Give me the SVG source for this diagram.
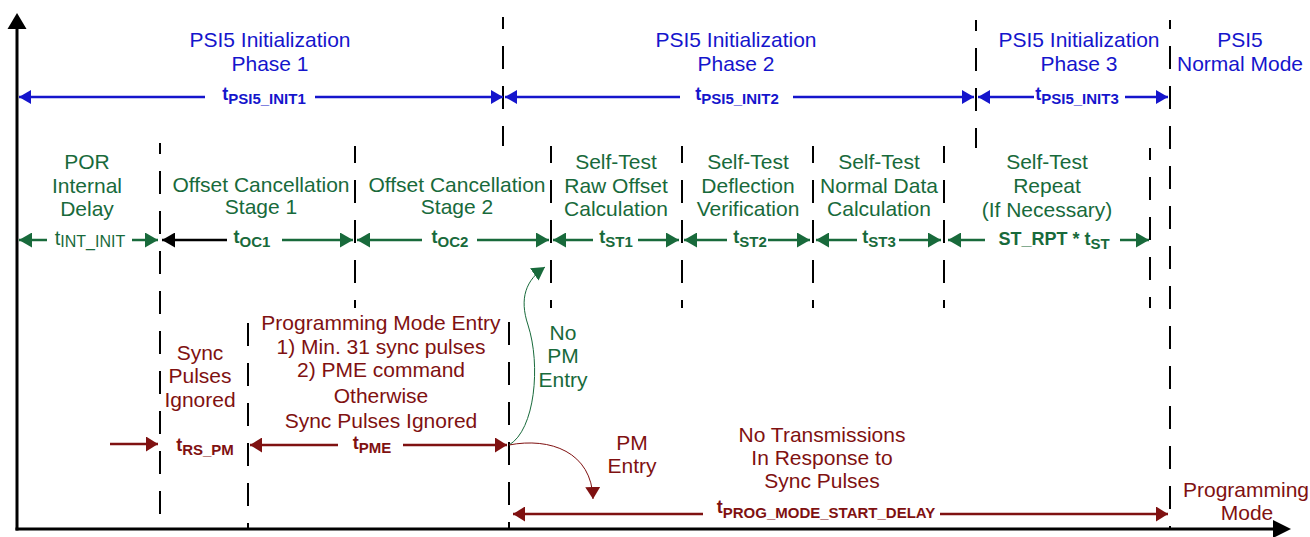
<svg xmlns="http://www.w3.org/2000/svg" width="1310" height="537" viewBox="0 0 1310 537">
<defs>
<style>
text{font-family:"Liberation Sans",Arial,sans-serif;text-anchor:middle}
.lb{font-size:21px}
.bl{fill:#1515CC}
.gr{fill:#186A3B}
.rd{fill:#7F1111}
.tb{font-size:18px;font-weight:bold}
.sb{font-size:15px;font-weight:bold}
.div{stroke:#000;stroke-width:2;stroke-dasharray:23 17;fill:none}
.cb{stroke:#1515CC;stroke-width:2.5;fill:none;marker-end:url(#ab)}
.cg{stroke:#186A3B;stroke-width:2.5;fill:none;marker-end:url(#ag)}
.ck{stroke:#000;stroke-width:2.5;fill:none;marker-end:url(#ak)}
.cr{stroke:#7F1111;stroke-width:2.5;fill:none;marker-end:url(#ar)}
</style>
<marker id="ab" viewBox="0 0 12 14" refX="12" refY="7" markerWidth="12" markerHeight="14" markerUnits="userSpaceOnUse" orient="auto"><path d="M0,0L12,7L0,14Z" fill="#1515CC"/></marker>
<marker id="ag" viewBox="0 0 13 15" refX="13" refY="7.5" markerWidth="13" markerHeight="15" markerUnits="userSpaceOnUse" orient="auto"><path d="M0,0L13,7.5L0,15Z" fill="#186A3B"/></marker>
<marker id="ak" viewBox="0 0 13 15" refX="13" refY="7.5" markerWidth="13" markerHeight="15" markerUnits="userSpaceOnUse" orient="auto"><path d="M0,0L13,7.5L0,15Z" fill="#000"/></marker>
<marker id="ar" viewBox="0 0 12 15" refX="12" refY="7.5" markerWidth="12" markerHeight="15" markerUnits="userSpaceOnUse" orient="auto"><path d="M0,0L12,7.5L0,15Z" fill="#7F1111"/></marker>
</defs>
<rect width="1310" height="537" fill="#fff"/>

<g id="axes">
<line x1="17" y1="27" x2="17" y2="530.5" stroke="#000" stroke-width="3"/>
<polygon points="17,13 7.5,29 26.5,29" fill="#000"/>
<line x1="15.5" y1="529" x2="1276" y2="529" stroke="#000" stroke-width="3"/>
<polygon points="1291,529 1273,520 1273,538" fill="#000"/>
</g>

<g id="dividers">
<line class="div" x1="160" y1="143" x2="160" y2="529" stroke-dashoffset="12"/>
<line class="div" x1="355" y1="146" x2="355" y2="308" stroke-dashoffset="6"/>
<line class="div" x1="248" y1="323" x2="248" y2="529"/>
<line class="div" x1="503" y1="17" x2="503" y2="146" stroke-dashoffset="11"/>
<line class="div" x1="509" y1="322" x2="509" y2="529"/>
<line class="div" x1="551" y1="146" x2="551" y2="308" stroke-dashoffset="6"/>
<line class="div" x1="682" y1="146" x2="682" y2="308" stroke-dashoffset="6"/>
<line class="div" x1="813" y1="146" x2="813" y2="308" stroke-dashoffset="6"/>
<line class="div" x1="944" y1="146" x2="944" y2="308" stroke-dashoffset="6"/>
<line class="div" x1="976" y1="20" x2="976" y2="148" stroke-dashoffset="12"/>
<line class="div" x1="1150" y1="148" x2="1150" y2="308" stroke-dashoffset="11"/>
<line class="div" x1="1170" y1="20" x2="1170" y2="529" stroke-dashoffset="14"/>
</g>

<g id="connectors">
<path class="cb" d="M205,97H19"/>
<path class="cb" d="M315,97H503"/>
<path class="cb" d="M680,97H505"/>
<path class="cb" d="M793,97H974"/>
<path class="cb" d="M1034,97H978"/>
<path class="cb" d="M1125,97H1168"/>

<path class="cg" d="M47,240H19"/>
<path class="cg" d="M132,240H158"/>
<path class="ck" d="M227,240H162"/>
<path class="cg" d="M282,240H353"/>
<path class="cg" d="M422,240H357"/>
<path class="cg" d="M477,240H549"/>
<path class="cg" d="M593,240H553"/>
<path class="cg" d="M638,240H679"/>
<path class="cg" d="M727,240H684"/>
<path class="cg" d="M768,240H810"/>
<path class="cg" d="M857,240H816"/>
<path class="cg" d="M899,240H941"/>
<path class="cg" d="M985,240H948"/>
<path class="cg" d="M1120,240H1149"/>

<path class="cr" d="M110,444H158"/>
<path class="cr" d="M338,445H250"/>
<path class="cr" d="M403,445H507"/>
<path class="cr" d="M703,514H513"/>
<path class="cr" d="M940,514H1168"/>

<path d="M509,445C535,430 541,365 528,325C519,298 526,280 545,267" stroke="#186A3B" stroke-width="1" fill="none" marker-end="url(#ag)"/>
<path d="M509,445C550,437 592,452 593,499" stroke="#7F1111" stroke-width="1" fill="none" marker-end="url(#ar)"/>
</g>

<g id="phase1" class="bl">
<text class="lb" x="270" y="47">PSI5 Initialization</text>
<text class="lb" x="270" y="71">Phase 1</text>
<text x="264" y="100"><tspan class="tb">t</tspan><tspan class="sb" dy="4">PSI5_INIT1</tspan></text>
</g>
<g id="phase2" class="bl">
<text class="lb" x="736" y="47">PSI5 Initialization</text>
<text class="lb" x="736" y="71">Phase 2</text>
<text x="737" y="100"><tspan class="tb">t</tspan><tspan class="sb" dy="4">PSI5_INIT2</tspan></text>
</g>
<g id="phase3" class="bl">
<text class="lb" x="1079" y="47">PSI5 Initialization</text>
<text class="lb" x="1079" y="71">Phase 3</text>
<text x="1077" y="100"><tspan class="tb">t</tspan><tspan class="sb" dy="4">PSI5_INIT3</tspan></text>
</g>
<g id="normal" class="bl">
<text class="lb" x="1240" y="47">PSI5</text>
<text class="lb" x="1240" y="71">Normal Mode</text>
</g>

<g id="por" class="gr">
<text class="lb" x="87" y="169">POR</text>
<text class="lb" x="87" y="193">Internal</text>
<text class="lb" x="87" y="216">Delay</text>
<text x="90" y="245"><tspan font-size="20">t</tspan><tspan font-size="16" dy="2">INT_INIT</tspan></text>
</g>
<g id="oc1" class="gr">
<text class="lb" x="261" y="192">Offset Cancellation</text>
<text class="lb" x="261" y="214">Stage 1</text>
<text x="252" y="243"><tspan class="tb">t</tspan><tspan class="sb" dy="4">OC1</tspan></text>
</g>
<g id="oc2" class="gr">
<text class="lb" x="457" y="192">Offset Cancellation</text>
<text class="lb" x="457" y="214">Stage 2</text>
<text x="450" y="243"><tspan class="tb">t</tspan><tspan class="sb" dy="4">OC2</tspan></text>
</g>
<g id="st1" class="gr">
<text class="lb" x="616" y="169">Self-Test</text>
<text class="lb" x="616" y="193">Raw Offset</text>
<text class="lb" x="616" y="216">Calculation</text>
<text x="616" y="243"><tspan class="tb">t</tspan><tspan class="sb" dy="4">ST1</tspan></text>
</g>
<g id="st2" class="gr">
<text class="lb" x="748" y="169">Self-Test</text>
<text class="lb" x="748" y="193">Deflection</text>
<text class="lb" x="748" y="216">Verification</text>
<text x="750" y="243"><tspan class="tb">t</tspan><tspan class="sb" dy="4">ST2</tspan></text>
</g>
<g id="st3" class="gr">
<text class="lb" x="879" y="169">Self-Test</text>
<text class="lb" x="879" y="193">Normal Data</text>
<text class="lb" x="879" y="216">Calculation</text>
<text x="879" y="243"><tspan class="tb">t</tspan><tspan class="sb" dy="4">ST3</tspan></text>
</g>
<g id="strpt" class="gr">
<text class="lb" x="1047" y="169">Self-Test</text>
<text class="lb" x="1047" y="193">Repeat</text>
<text class="lb" x="1047" y="217">(If Necessary)</text>
<text x="1054" y="245"><tspan class="tb">ST_RPT * t</tspan><tspan class="sb" dy="4">ST</tspan></text>
</g>

<g id="syncignored" class="rd">
<text class="lb" x="200" y="360">Sync</text>
<text class="lb" x="200" y="383">Pulses</text>
<text class="lb" x="200" y="407">Ignored</text>
<text x="205" y="451"><tspan class="tb">t</tspan><tspan class="sb" dy="4">RS_PM</tspan></text>
</g>
<g id="pme" class="rd">
<text class="lb" x="381" y="330">Programming Mode Entry</text>
<text class="lb" x="381" y="354">1) Min. 31 sync pulses</text>
<text class="lb" x="381" y="377">2) PME command</text>
<text class="lb" x="381" y="403">Otherwise</text>
<text class="lb" x="381" y="428">Sync Pulses Ignored</text>
<text x="372" y="449"><tspan class="tb">t</tspan><tspan class="sb" dy="4">PME</tspan></text>
</g>
<g id="nopm" class="gr">
<text class="lb" x="563" y="340">No</text>
<text class="lb" x="563" y="363">PM</text>
<text class="lb" x="563" y="387">Entry</text>
</g>
<g id="pmentry" class="rd">
<text class="lb" x="632" y="450">PM</text>
<text class="lb" x="632" y="473">Entry</text>
</g>
<g id="notx" class="rd">
<text class="lb" x="822" y="442">No Transmissions</text>
<text class="lb" x="822" y="465">In Response to</text>
<text class="lb" x="822" y="488">Sync Pulses</text>
<text x="826" y="513"><tspan class="tb">t</tspan><tspan class="sb" dy="5">PROG_MODE_START_DELAY</tspan></text>
</g>
<g id="progmode" class="rd">
<text class="lb" x="1246" y="497">Programming</text>
<text class="lb" x="1247" y="520">Mode</text>
</g>
</svg>
